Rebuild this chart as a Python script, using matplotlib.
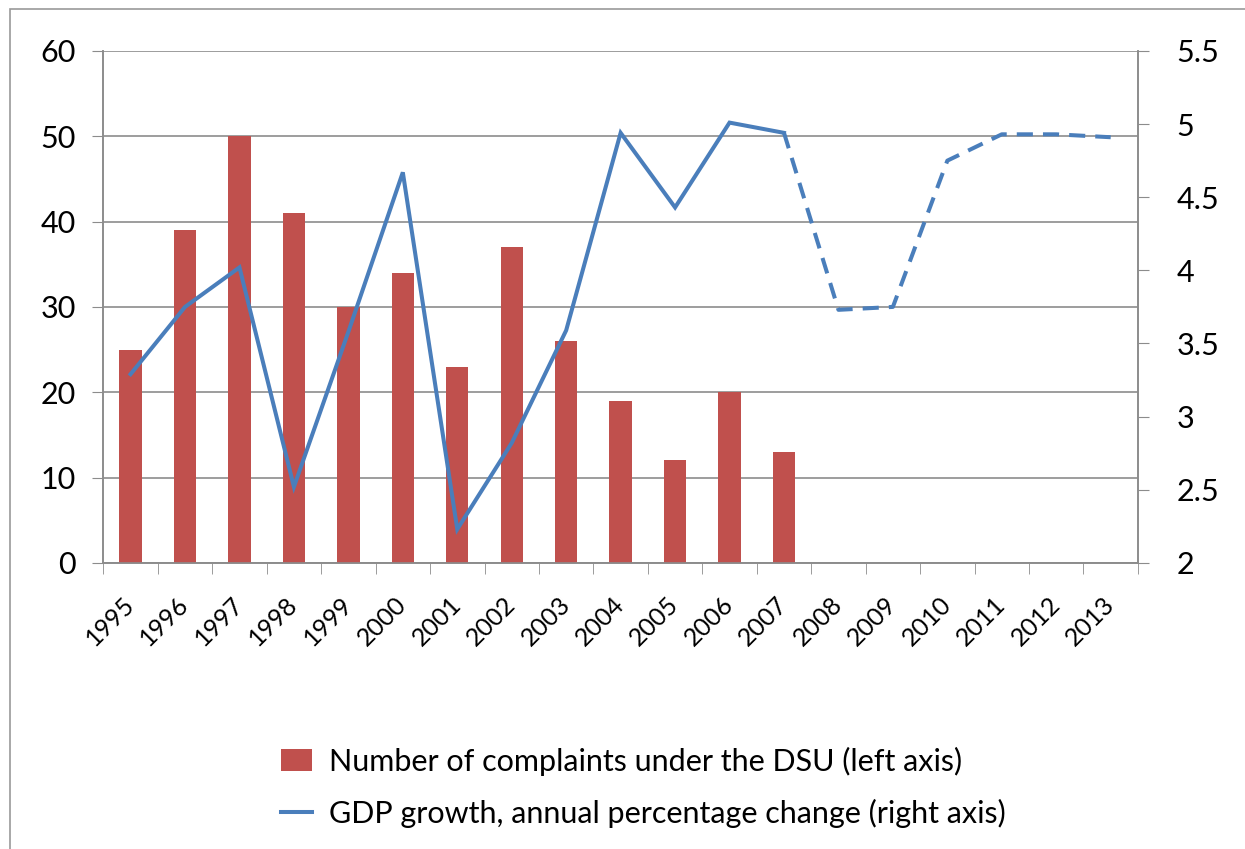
import numpy as np
import matplotlib
matplotlib.use("Agg")
import matplotlib.pyplot as plt
import matplotlib.transforms as mtransforms
from matplotlib.patches import Rectangle

plt.rcParams['font.family'] = ['Lato', 'DejaVu Sans']

years = [str(y) for y in range(1995, 2014)]
complaints = [25, 39, 50, 41, 30, 34, 23, 37, 26, 19, 12, 20, 13]
gdp_actual = [3.29, 3.75, 4.02, 2.52, 3.58, 4.67, 2.23, 2.82, 3.59, 4.94, 4.43, 5.01, 4.94]
gdp_forecast = [4.94, 3.73, 3.75, 4.75, 4.93, 4.93, 4.91]  # 2007 onwards, dashed

bar_color = '#C0504D'
line_color = '#4A7EBB'
grid_color = '#8c8c8c'

fig = plt.figure(figsize=(12.45, 8.49), dpi=100)
ax = fig.add_axes([0.083, 0.337, 0.831, 0.603])
ax2 = ax.twinx()

x = np.arange(len(years))
bars = ax.bar(x[:len(complaints)], complaints, width=0.41, color=bar_color, zorder=3)

line, = ax2.plot(x[:len(gdp_actual)], gdp_actual, color=line_color, lw=2.9,
                 solid_joinstyle='miter')
xf = x[len(gdp_actual) - 1:]
ax2.plot(xf, gdp_forecast, color=line_color, lw=2.9, ls=(0, (4, 2.5)))

# left axis
ax.set_ylim(0, 60)
ax.set_yticks(range(0, 61, 10))
ax.grid(axis='y', color=grid_color, lw=1.2, zorder=0)
ax.set_axisbelow(True)
ax.set_xlim(-0.5, len(years) - 0.5)
ax.set_xticks(x)
ax.set_xticklabels(years, rotation=45, ha='right', va='center',
                   rotation_mode='anchor', fontsize=18)
shift = mtransforms.ScaledTranslation(8 / 100, 0, fig.dpi_scale_trans)
for lab in ax.get_xticklabels():
    lab.set_transform(lab.get_transform() + shift)
ax.set_xticks(np.arange(-0.5, len(years)), minor=True)
ax.tick_params(axis='x', which='major', length=0, pad=27)
ax.tick_params(axis='x', which='minor', length=8, color=grid_color, direction='out')
ax.tick_params(axis='y', labelsize=22, length=8, color=grid_color, pad=12)

# right axis
ax2.set_ylim(2, 5.5)
ax2.set_yticks([2, 2.5, 3, 3.5, 4, 4.5, 5, 5.5])
ax2.set_yticklabels(['2', '2.5', '3', '3.5', '4', '4.5', '5', '5.5'])
ax2.tick_params(axis='y', labelsize=22, length=8, color=grid_color, pad=20)

for a in (ax, ax2):
    for s in a.spines.values():
        s.set_color(grid_color)
        s.set_linewidth(1.2)
    a.spines['top'].set_visible(False)

labels = ['Number of complaints under the DSU (left axis)',
          'GDP growth, annual percentage change (right axis)']
fig.legend([bars, line], labels, loc='upper left', bbox_to_anchor=(0.216, 0.135),
           frameon=False, fontsize=22, handlelength=1.0, handleheight=0.75,
           handletextpad=0.55, labelspacing=0.75, borderaxespad=0)

fig.patches.append(Rectangle((0.008, -0.02), 1.0, 0.989 + 0.02, transform=fig.transFigure,
                             fill=False, edgecolor='#9a9a9a', lw=1.2))

fig.savefig('out.png', dpi=100)
